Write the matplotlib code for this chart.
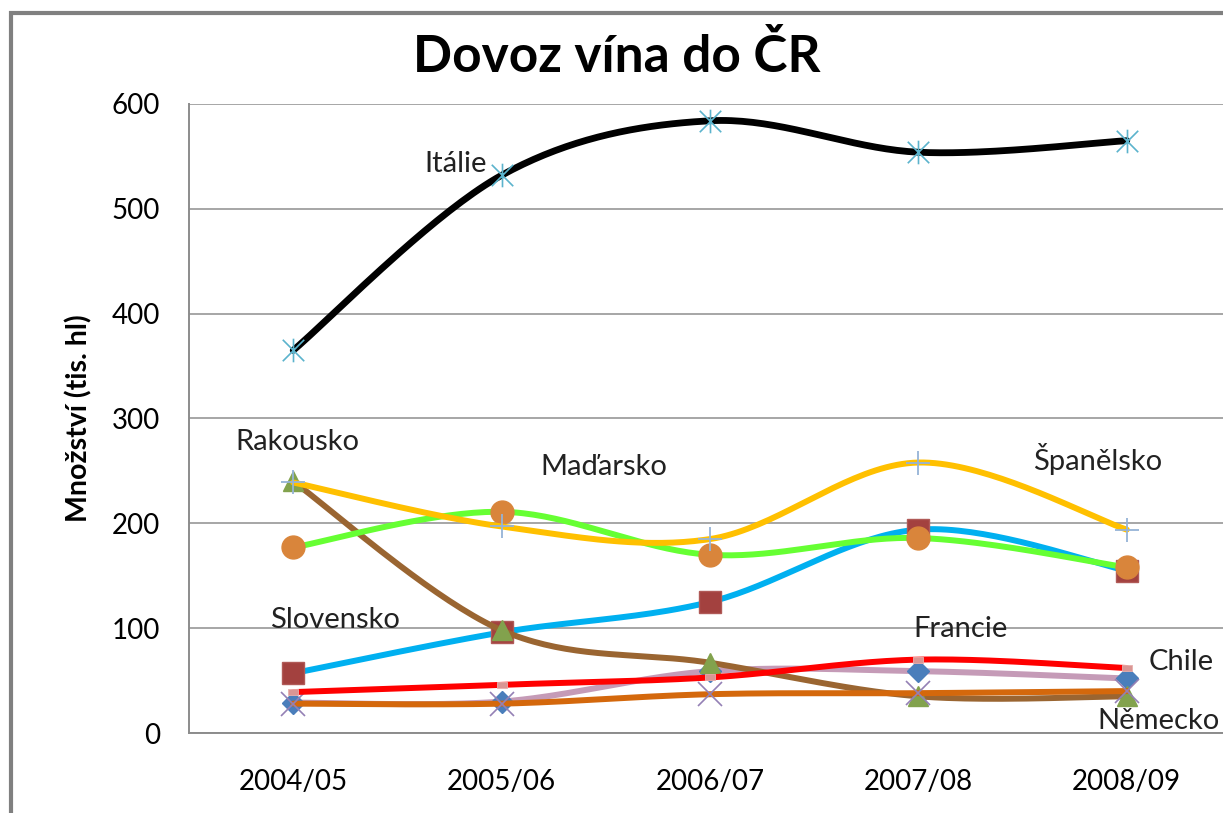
import numpy as np
import matplotlib
matplotlib.use("Agg")
import matplotlib.pyplot as plt
from matplotlib.path import Path
from matplotlib.patches import Rectangle

plt.rcParams['font.family'] = ['Lato', 'DejaVu Sans']

# ---------------- data ----------------
seasons = ["2004/05", "2005/06", "2006/07", "2007/08", "2008/09"]
francie   = [29, 30, 59, 59, 52]
slovensko = [57, 96, 125, 194, 155]
rakousko  = [240, 98, 67, 35, 35]
nemecko   = [28, 28, 37, 38, 40]
italie    = [365, 532, 584, 554, 565]
madarsko  = [177, 211, 170, 186, 158]
spanelsko = [239, 197, 185, 258, 194]
chile     = [39, 46, 53, 70, 62]
yticks = [0, 100, 200, 300, 400, 500, 600]

# custom markers
star_path = Path([(-1, -1), (1, 1), (-1, 1), (1, -1), (0, -1.1), (0, 1.1)],
                 [Path.MOVETO, Path.LINETO, Path.MOVETO, Path.LINETO, Path.MOVETO, Path.LINETO])
dash_path = Path([(-1, -0.55), (1, -0.55), (1, 0.55), (-1, 0.55), (-1, -0.55)],
                 [Path.MOVETO, Path.LINETO, Path.LINETO, Path.LINETO, Path.CLOSEPOLY])

series = [
    # name, values, line color, marker, marker face, marker edge, ms, mew, lw
    ("Francie",   francie,   "#C59BB7", "D",       "#4A7EBB", "#4A7EBB", 11.5, 1.0, 4.3),
    ("Slovensko", slovensko, "#00B0F0", "s",       "#A3413F", "#B05A57", 16,   1.0, 4.3),
    ("Rakousko",  rakousko,  "#9A6531", "^",       "#82A24D", "#82A24D", 15,   1.0, 4.3),
    ("Německo",   nemecko,   "#D4680C", "x",       "none",    "#9480B5", 17,   1.2, 4.3),
    ("Itálie",    italie,    "#000000", star_path, "none",    "#5BB3CC", 17,   1.2, 4.9),
    ("Maďarsko",  madarsko,  "#66FF33", "o",       "#D9853B", "#D9853B", 16.5, 1.0, 4.3),
    ("Španělsko", spanelsko, "#FFC000", "+",       "none",    "#95B3D7", 17,   1.3, 4.3),
    ("Chile",     chile,     "#FF0000", dash_path, "#D99694", "#E8B0AE", 7.5,  0.6, 4.3),
]


def smooth(xs, ys, n=40):
    """Excel-like smoothed line (Catmull-Rom Bezier)."""
    P = np.column_stack([xs, ys]).astype(float)
    m = len(P)
    out = []
    for i in range(m - 1):
        p0 = P[i - 1] if i > 0 else P[i]
        p1 = P[i]
        p2 = P[i + 1]
        p3 = P[i + 2] if i + 2 < m else P[i + 1]
        c1 = p1 + (p2 - p0) / 6.0
        c2 = p2 - (p3 - p1) / 6.0
        t = np.linspace(0, 1, n)[:, None]
        seg = ((1 - t) ** 3) * p1 + 3 * ((1 - t) ** 2) * t * c1 + 3 * (1 - t) * t ** 2 * c2 + t ** 3 * p2
        if i > 0:
            seg = seg[1:]
        out.append(seg)
    out = np.vstack(out)
    return out[:, 0], out[:, 1]


W, H = 1223, 813
fig = plt.figure(figsize=(W / 100, H / 100), dpi=100)
fig.patch.set_facecolor("white")

# outer chart border (gray, runs off the right/bottom edges)
fig.patches.append(Rectangle((11 / W, -0.1), 1.2, (H - 13) / H + 0.1, transform=fig.transFigure,
                             fill=False, edgecolor="#808080", linewidth=3, zorder=0))

ax = fig.add_axes([189 / W, (H - 733) / H, 1042 / W, 629 / H])
ax.set_xlim(-0.5, 4.5)
ax.set_ylim(0, 600)
ax.set_yticks(yticks)
ax.set_xticks(range(len(seasons)))
ax.set_xticklabels(seasons)
ax.tick_params(axis="both", length=0, labelsize=20, colors="#000000")
ax.tick_params(axis="y", pad=21)
ax.tick_params(axis="x", pad=26)
ax.grid(axis="y", color="#A6A6A6", linewidth=1.4)
ax.set_axisbelow(True)
for side in ["top", "right"]:
    ax.spines[side].set_visible(False)
for side in ["left", "bottom"]:
    ax.spines[side].set_color("#8C8C8C")
    ax.spines[side].set_linewidth(1.4)

x = np.arange(len(seasons))
for k, (name, vals, lc, mk, mfc, mec, ms, mew, lw) in enumerate(series):
    sx, sy = smooth(x, vals)
    ax.plot(sx, sy, color=lc, linewidth=lw, solid_capstyle="round", zorder=3 + 2 * k)
    ax.plot(x, vals, linestyle="none", marker=mk, markersize=ms, markerfacecolor=mfc,
            markeredgecolor=mec, markeredgewidth=mew, zorder=4 + 2 * k)

# series name labels
labels = [
    ("Itálie",    0.78, 543),
    ("Rakousko",  0.02, 278),
    ("Maďarsko",  1.49, 254),
    ("Španělsko", 3.86, 261),
    ("Slovensko", 0.20, 108),
    ("Francie",   3.20, 99),
    ("Chile",     4.26, 68),
    ("Německo",   4.15, 11),
]
for txt, lx, ly in labels:
    ax.text(lx, ly, txt, ha="center", va="center", fontsize=21, color="#222222", zorder=30,
            clip_on=False)

ax.set_ylabel("Množství (tis. hl)", fontsize=20.5, fontweight="bold", labelpad=14)
fig.text(617 / W, 1 - 57 / H, "Dovoz vína do ČR", ha="center", va="center",
         fontsize=37, fontweight="bold")

fig.savefig("out.png", dpi=100)
